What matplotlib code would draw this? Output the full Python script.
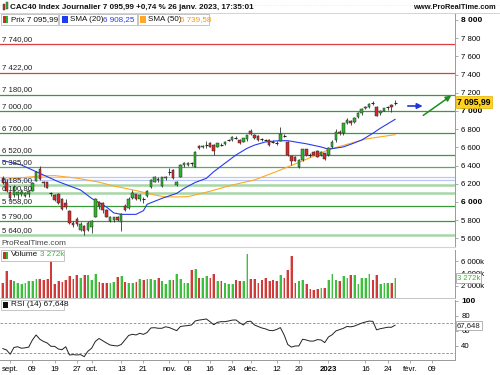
import matplotlib
matplotlib.use("Agg")
import matplotlib.pyplot as plt
import matplotlib.transforms as mtransforms
from matplotlib.patches import Rectangle
import numpy as np

plt.rcParams['font.family'] = ['Liberation Sans', 'DejaVu Sans']

# ---------------- data (trading days 30 Aug 2022 .. 26 Jan 2023) ----------------
opens = [6265, 6225, 6110, 6077, 6080, 6090, 6070, 6085, 6125, 6234,
         6363, 6215, 6216, 6100, 6077, 6088, 6029, 5990, 5905, 5765,
         5813, 5692, 5736, 5692, 5729, 5840, 6004, 5993, 5912, 5795,
         5800, 5832, 5784, 5956, 5930, 6040, 6084, 6033, 6032, 6066,
         6161, 6223, 6250, 6176, 6260, 6330, 6352, 6187, 6278, 6405,
         6410, 6428, 6388, 6619, 6600, 6630, 6645, 6626, 6608, 6630,
         6634, 6680, 6681, 6710, 6681, 6663, 6692, 6784, 6736, 6729,
         6692, 6684, 6681, 6665, 6648, 6670, 6730, 6663, 6505, 6490,
         6388, 6462, 6579, 6515, 6554, 6560, 6517, 6535, 6517, 6600,
         6680, 6770, 6755, 6870, 6890, 6875, 6930, 6980, 7030, 7040,
         7085, 7047, 6975, 7004, 7040, 7065, 7090]
highs = [6290, 6250, 6125, 6190, 6120, 6140, 6110, 6135, 6220, 6345,
         6399, 6235, 6225, 6110, 6090, 6095, 6045, 6030, 5910, 5790,
         5840, 5775, 5745, 5790, 5800, 6045, 6010, 6000, 5920, 5845,
         5840, 5845, 5880, 5975, 6060, 6132, 6090, 6085, 6060, 6135,
         6250, 6285, 6275, 6280, 6285, 6370, 6360, 6230, 6420, 6440,
         6445, 6445, 6560, 6630, 6630, 6665, 6655, 6635, 6650, 6645,
         6670, 6690, 6725, 6720, 6690, 6705, 6740, 6800, 6745, 6735,
         6700, 6695, 6690, 6680, 6665, 6821, 6745, 6670, 6510, 6500,
         6470, 6585, 6585, 6535, 6565, 6570, 6560, 6540, 6600, 6680,
         6800, 6790, 6870, 6920, 6900, 6935, 6985, 7030, 7060, 7090,
         7105, 7050, 7010, 7035, 7055, 7075, 7120]
lows = [6195, 6105, 6020, 6060, 6030, 6070, 6050, 6060, 6120, 6230,
        6240, 6170, 6150, 6065, 6010, 5980, 5910, 5920, 5760, 5730,
        5740, 5680, 5640, 5680, 5656, 5835, 5920, 5880, 5830, 5780,
        5775, 5790, 5685, 5905, 5925, 6030, 6020, 6010, 5990, 6060,
        6150, 6215, 6220, 6170, 6240, 6300, 6255, 6175, 6270, 6390,
        6395, 6400, 6380, 6580, 6590, 6590, 6600, 6520, 6600, 6610,
        6625, 6665, 6675, 6695, 6640, 6655, 6670, 6740, 6690, 6675,
        6670, 6665, 6620, 6650, 6625, 6665, 6715, 6510, 6407, 6450,
        6370, 6455, 6505, 6495, 6515, 6490, 6505, 6460, 6510, 6590,
        6660, 6740, 6740, 6860, 6850, 6870, 6920, 6960, 7020, 7030,
        7070, 6940, 6960, 6995, 7010, 6993, 7070]
closes = [6210, 6125, 6045, 6168, 6110, 6113, 6095, 6126, 6212, 6335,
          6249, 6205, 6157, 6095, 6025, 5990, 5920, 5945, 5773, 5750,
          5758, 5758, 5681, 5773, 5795, 6035, 5956, 5912, 5839, 5832,
          5830, 5800, 5865, 5912, 6033, 6095, 6033, 6077, 6030, 6125,
          6242, 6271, 6242, 6271, 6278, 6333, 6260, 6223, 6407, 6425,
          6430, 6425, 6553, 6590, 6620, 6632, 6608, 6560, 6645, 6626,
          6663, 6681, 6718, 6707, 6645, 6700, 6736, 6747, 6700, 6681,
          6689, 6681, 6626, 6663, 6645, 6744, 6729, 6516, 6451, 6454,
          6462, 6579, 6517, 6510, 6520, 6498, 6553, 6469, 6590, 6660,
          6773, 6755, 6864, 6906, 6870, 6925, 6980, 7024, 7040, 7078,
          7083, 6950, 6995, 7029, 7044, 7043, 7095.99]
volumes_k = [2538, 4374, 2916, 2754, 2484, 2268, 2538, 2808, 2808, 3078,
             3078, 2916, 3078, 6156, 2268, 2808, 2646, 2916, 3564, 3078,
             3726, 3348, 3726, 3834, 2916, 3888, 2646, 2538, 2484, 2484,
             2646, 3456, 3564, 2646, 2538, 2538, 2646, 3078, 2916, 3186,
             3078, 3024, 3294, 2808, 2376, 3024, 2916, 3996, 3078, 2484,
             2484, 4644, 4806, 3348, 3348, 3564, 3294, 3996, 2754, 2754,
             2538, 2268, 2268, 2916, 2808, 2808, 7200, 3186, 3186, 2538,
             3024, 3294, 2754, 2916, 2754, 3834, 3294, 4536, 6804, 2538,
             2754, 2916, 2268, 1566, 1296, 1458, 1728, 1728, 2916, 3888,
             3024, 2808, 3564, 3294, 3726, 3726, 2268, 3348, 3348, 3996,
             3024, 3800, 2268, 2538, 2484, 2484, 3272]
rsi = [36.5, 34.7, 29.0, 38.0, 39.0, 37.0, 37.5, 38.5, 48.0, 54.7,
       49.0, 46.0, 44.0, 39.5, 39.5, 36.0, 35.0, 39.0, 28.0, 28.5,
       28.0, 28.5, 25.8, 33.0, 37.0, 46.0, 50.0, 47.0, 44.0, 41.3,
       40.5, 40.0, 42.0, 48.0, 54.0, 55.6, 54.7, 56.9, 55.5, 58.0,
       64.0, 64.4, 63.6, 63.6, 65.6, 64.5, 62.5, 60.4, 66.0, 66.7,
       67.2, 68.0, 73.3, 74.5, 75.2, 76.0, 72.4, 68.3, 71.5, 72.4,
       72.4, 73.3, 74.5, 74.7, 71.0, 68.0, 72.5, 73.0, 68.0, 66.0,
       64.0, 62.8, 60.8, 60.4, 62.0, 64.5, 55.0, 42.0, 38.5, 40.0,
       40.0, 49.0, 48.0, 46.5, 46.5, 48.5, 48.0, 44.5, 52.0, 55.0,
       60.0, 61.8, 63.5, 66.0, 65.5, 66.5, 68.5, 70.5, 72.0, 73.2,
       72.8, 61.5, 63.0, 64.0, 65.0, 64.9, 67.648]
sma20_idx = [0, 5, 10, 15, 21, 24, 28, 30, 32, 36, 38, 39, 43, 47, 49, 52, 55, 57,
             60, 63, 66, 68, 71, 74, 77, 79, 82, 86, 88, 92, 94, 97, 100, 102, 106]
sma20_val = [6455, 6407, 6315, 6223, 6132, 6040, 5945, 5880, 5864, 5864, 5905, 5975,
             6040, 6095, 6150, 6215, 6260, 6333, 6425, 6516, 6590, 6625, 6660, 6672,
             6674, 6660, 6640, 6605, 6580, 6605, 6634, 6681, 6755, 6810, 6908.25]
sma50_idx = [0, 10, 14, 20, 26, 30, 36, 41, 44, 50, 53, 56, 62, 68, 74, 80, 85, 88, 94, 98, 106]
sma50_val = [6245, 6286, 6290, 6262, 6218, 6176, 6126, 6077, 6055, 6058, 6088, 6118,
             6187, 6242, 6335, 6435, 6520, 6575, 6645, 6692, 6739.58]

level_values = [7740, 7422, 7180, 7000, 6760, 6520, 6385, 6185, 6100.80, 5958, 5790, 5640]
level_kinds = ['r', 'r', 'g', 'g', 'g', 'g', 'm', 'l', 'l', 'g', 'g', 'l']
blue_levels = [6272, 6240]

date_pos = [2, 8, 14, 20, 24, 32, 38, 45, 50, 56, 62, 67, 74, 80, 88, 98, 104, 110, 116]
date_lbl = ['sept.', '09', '19', '27', 'oct.', '13', '21', 'nov.', '08', '16', '24',
            'déc.', '12', '20', '2023', '16', '24', 'févr.', '09']

price_ticks = list(range(5600, 8001, 200))
vol_ticks = [2000, 4000, 6000]
rsi_ticks = [40, 60, 80, 100]

# ---------------- layout helpers ----------------
W, H = 500, 375
fig = plt.figure(figsize=(W / 100, H / 100), dpi=100)
fig.patch.set_facecolor('white')


def frect(x0, y0, x1, y1):
    return [x0 / W, 1 - y1 / H, (x1 - x0) / W, (y1 - y0) / H]


def ftext(x, y, s, **kw):
    kw.setdefault('va', 'center')
    return fig.text(x / W, 1 - y / H, s, **kw)


def fbox(x0, y0, x1, y1, fc='white', ec='#bbbbbb', lw=0.6, z=5):
    r = Rectangle((x0 / W, 1 - y1 / H), (x1 - x0) / W, (y1 - y0) / H,
                  transform=fig.transFigure, facecolor=fc, edgecolor=ec, lw=lw, zorder=z)
    fig.add_artist(r)


def fmt_thousands(v):
    return f"{int(v):,}".replace(',', ' ')


FS = 5.6
XMIN, XMAX = -0.76, 122.2
GREEN = '#2db52d'
RED = '#d42a2a'

ax = fig.add_axes(frect(0, 13, 455, 247))
axv = fig.add_axes(frect(0, 250, 455, 298.3))
axr = fig.add_axes(frect(0, 300, 455, 360))

for a in (ax, axv, axr):
    a.set_xlim(XMIN, XMAX)
    for s in a.spines.values():
        s.set_visible(False)
    a.spines['right'].set_visible(True)
    a.spines['right'].set_color('#999999')
    a.spines['right'].set_linewidth(0.7)
    a.yaxis.tick_right()
    a.tick_params(axis='y', length=2.5, width=0.5, color='#888888', pad=2, labelsize=FS)
    a.set_facecolor('white')

ax.set_xticks([])
axv.set_xticks([])

# ---------------- price panel ----------------
ax.set_ylim(5505.5, 8076.9)
n = len(closes)
xs = np.arange(n)

kind_style = {'r': ('#e23c3c', 0.9), 'g': ('#3a993a', 0.9), 'm': ('#5aab5a', 0.9),
              'l': ('#a6d6a6', 1.8)}
ylab_tr = mtransforms.blended_transform_factory(ax.transAxes, ax.transData)
for v, k in zip(level_values, level_kinds):
    c, lw = kind_style[k]
    ax.axhline(v, color=c, lw=lw, zorder=1)
    lbl = f"{fmt_thousands(int(v))},{int(round((v - int(v)) * 100)):02d}"
    ax.text(2 / 455, v + 12, lbl, transform=ylab_tr, fontsize=FS, color='#222222',
            ha='left', va='bottom', zorder=6)
for v in blue_levels:
    ax.axhline(v, color='#b9c8f2', lw=0.9, zorder=1)

ax.plot(sma50_idx, sma50_val, color='#ffa726', lw=0.8, zorder=2)
ax.plot(sma20_idx, sma20_val, color='#2a3af0', lw=0.8, zorder=2)

for i in xs:
    o, h, l, c = opens[i], highs[i], lows[i], closes[i]
    ax.vlines(i, l, h, color='#333333', lw=0.6, zorder=3)
    if abs(c - o) < 7:
        ax.hlines((o + c) / 2, i - 0.4, i + 0.4, color='#222222', lw=0.8, zorder=4)
    else:
        col = GREEN if c > o else RED
        ax.add_patch(Rectangle((i - 0.34, min(o, c)), 0.68, abs(c - o), facecolor=col,
                               edgecolor='#2a2a2a', lw=0.35, zorder=4))

ax.set_yticks(price_ticks)
ax.set_yticklabels([fmt_thousands(t) for t in price_ticks])
for t, lab in zip(price_ticks, ax.get_yticklabels()):
    if t % 1000 == 0:
        lab.set_fontweight('bold')
        lab.set_fontsize(FS + 0.4)

# last price tag
ax.text(1.004, closes[-1], fmt_thousands(int(closes[-1])) + ",99", transform=ylab_tr,
        fontsize=FS + 0.6, fontweight='bold', ha='left', va='center', zorder=10,
        clip_on=False,
        bbox=dict(boxstyle='square,pad=0.15', fc='#ffd21f', ec='#e0b000', lw=0.5))

# arrows
arrow_blue = ((108.7, 7055), (114.2, 7055))
arrow_green = ((113.0, 6934), (121.8, 7187))
ax.annotate('', xy=arrow_blue[1], xytext=arrow_blue[0],
            arrowprops=dict(arrowstyle='-|>', color='#2233dd', lw=1.2, mutation_scale=8),
            zorder=8)
ax.annotate('', xy=arrow_green[1], xytext=arrow_green[0],
            arrowprops=dict(arrowstyle='-|>', color='#1e8f1e', lw=1.1, mutation_scale=8),
            zorder=8, annotation_clip=False)

ax.spines['bottom'].set_visible(True)
ax.spines['bottom'].set_color('#c9d3ea')
ax.spines['bottom'].set_linewidth(0.8)

# ---------------- volume panel ----------------
axv.set_ylim(0, 7825)
for i in xs:
    up = closes[i] >= opens[i]
    dark = '#3cbf3c' if up else '#cf3b3b'
    light = '#b5e8b5' if up else '#efb0b0'
    axv.add_patch(Rectangle((i - 0.36, 0), 0.72, volumes_k[i], facecolor=dark,
                            edgecolor='none', zorder=3))
    axv.add_patch(Rectangle((i - 0.36, 0), 0.24, volumes_k[i], facecolor=light,
                            edgecolor='none', zorder=3))
axv.set_yticks(vol_ticks)
axv.set_yticklabels([fmt_thousands(t) + 'k' for t in vol_ticks])
vtr = mtransforms.blended_transform_factory(axv.transAxes, axv.transData)
axv.text(1.004, volumes_k[-1], '3 272k', transform=vtr, fontsize=FS, color='#33bb33',
         ha='left', va='center', zorder=10, clip_on=False,
         bbox=dict(boxstyle='square,pad=0.15', fc='white', ec='#999999', lw=0.5))
axv.spines['bottom'].set_visible(True)
axv.spines['bottom'].set_color('#bbbbbb')
axv.spines['bottom'].set_linewidth(0.6)

# ---------------- RSI panel ----------------
axr.set_ylim(21.3, 101.3)
axr.axhline(70, color='#888888', lw=0.6, ls=(0, (3, 2)), zorder=1)
axr.axhline(30, color='#888888', lw=0.6, ls=(0, (3, 2)), zorder=1)
axr.plot(xs, rsi, color='#222222', lw=0.7, zorder=3)
axr.set_yticks(rsi_ticks)
axr.set_yticklabels([str(t) for t in rsi_ticks])
for t, lab in zip(rsi_ticks, axr.get_yticklabels()):
    if t == 100:
        lab.set_fontweight('bold')
        lab.set_fontsize(FS + 0.4)
rtr = mtransforms.blended_transform_factory(axr.transAxes, axr.transData)
axr.text(1.004, rsi[-1], '67,648', transform=rtr, fontsize=FS, color='#222222',
         ha='left', va='center', zorder=10, clip_on=False,
         bbox=dict(boxstyle='square,pad=0.15', fc='white', ec='#999999', lw=0.5))
axr.spines['bottom'].set_visible(True)
axr.spines['bottom'].set_color('#999999')
axr.spines['bottom'].set_linewidth(0.7)
axr.set_xticks(date_pos)
axr.set_xticklabels(date_lbl)
axr.tick_params(axis='x', length=2, width=0.5, color='#888888', pad=2.5, labelsize=FS)
for lbl, lab in zip(date_lbl, axr.get_xticklabels()):
    if lbl == '2023':
        lab.set_fontweight('bold')

# ---------------- header / legends ----------------
fig.add_artist(plt.Line2D([0, 1], [1 - 13 / H, 1 - 13 / H], transform=fig.transFigure,
                          color='#cccccc', lw=0.6))
fig.add_artist(plt.Line2D([0, 1], [1 - 4.5 / H, 1 - 4.5 / H], transform=fig.transFigure,
                          color='#e4e4e4', lw=0.5, ls=(0, (1, 1.5))))
fbox(2.5, 4, 4.5, 10, fc=RED, ec='#333333', lw=0.3)
fbox(5.5, 2.5, 7.5, 8.5, fc=GREEN, ec='#333333', lw=0.3)
ftext(10, 7.3, "CAC40 Index Journalier 7 095,99 +0,74 % 26 janv. 2023, 17:35:01",
      fontsize=5.75, fontweight='bold', color='#111111')
ftext(496, 7.3, "www.ProRealTime.com", fontsize=5.4, fontweight='bold', ha='right',
      color='#111111')

fbox(1, 14, 58, 25)
fbox(3, 16, 5.5, 23, fc=RED, ec='none', z=6)
fbox(5.5, 16, 8, 23, fc=GREEN, ec='none', z=6)
ftext(11, 19.5, "Prix 7 095,99", fontsize=FS + 0.2, color='#111111', zorder=7)
fbox(59, 14, 137, 25)
fbox(62, 16.5, 67.5, 22.5, fc='#1f3df0', ec='none', z=6)
ftext(70, 19.5, "SMA (20)", fontsize=FS + 0.2, color='#111111', zorder=7)
ftext(103, 19.5, "6 908,25", fontsize=FS + 0.2, color='#2a3af0', zorder=7)
fbox(138, 14, 209, 25)
fbox(140, 16.5, 145.5, 22.5, fc='#ffa726', ec='none', z=6)
ftext(148, 19.5, "SMA (50)", fontsize=FS + 0.2, color='#111111', zorder=7)
ftext(180, 19.5, "6 739,58", fontsize=FS + 0.2, color='#f39c12', zorder=7)

ftext(1.5, 243.5, "ProRealTime.com", fontsize=FS + 0.3, color='#444444', zorder=7)

fbox(1, 249.5, 64, 260.5)
fbox(3, 251.5, 5.5, 258.5, fc=RED, ec='none', z=6)
fbox(5.5, 251.5, 8, 258.5, fc=GREEN, ec='none', z=6)
ftext(11, 255, "Volume", fontsize=FS + 0.3, color='#111111', zorder=7)
ftext(40, 255, "3 272k", fontsize=FS + 0.3, color='#33bb33', zorder=7)

fbox(1, 299.5, 64, 310)
fbox(3, 302, 8, 307.5, fc='#111111', ec='none', z=6)
ftext(11, 305, "RSI (14) 67,648", fontsize=FS + 0.3, color='#111111', zorder=7)

fig.savefig('out.png', dpi=100, facecolor='white')
